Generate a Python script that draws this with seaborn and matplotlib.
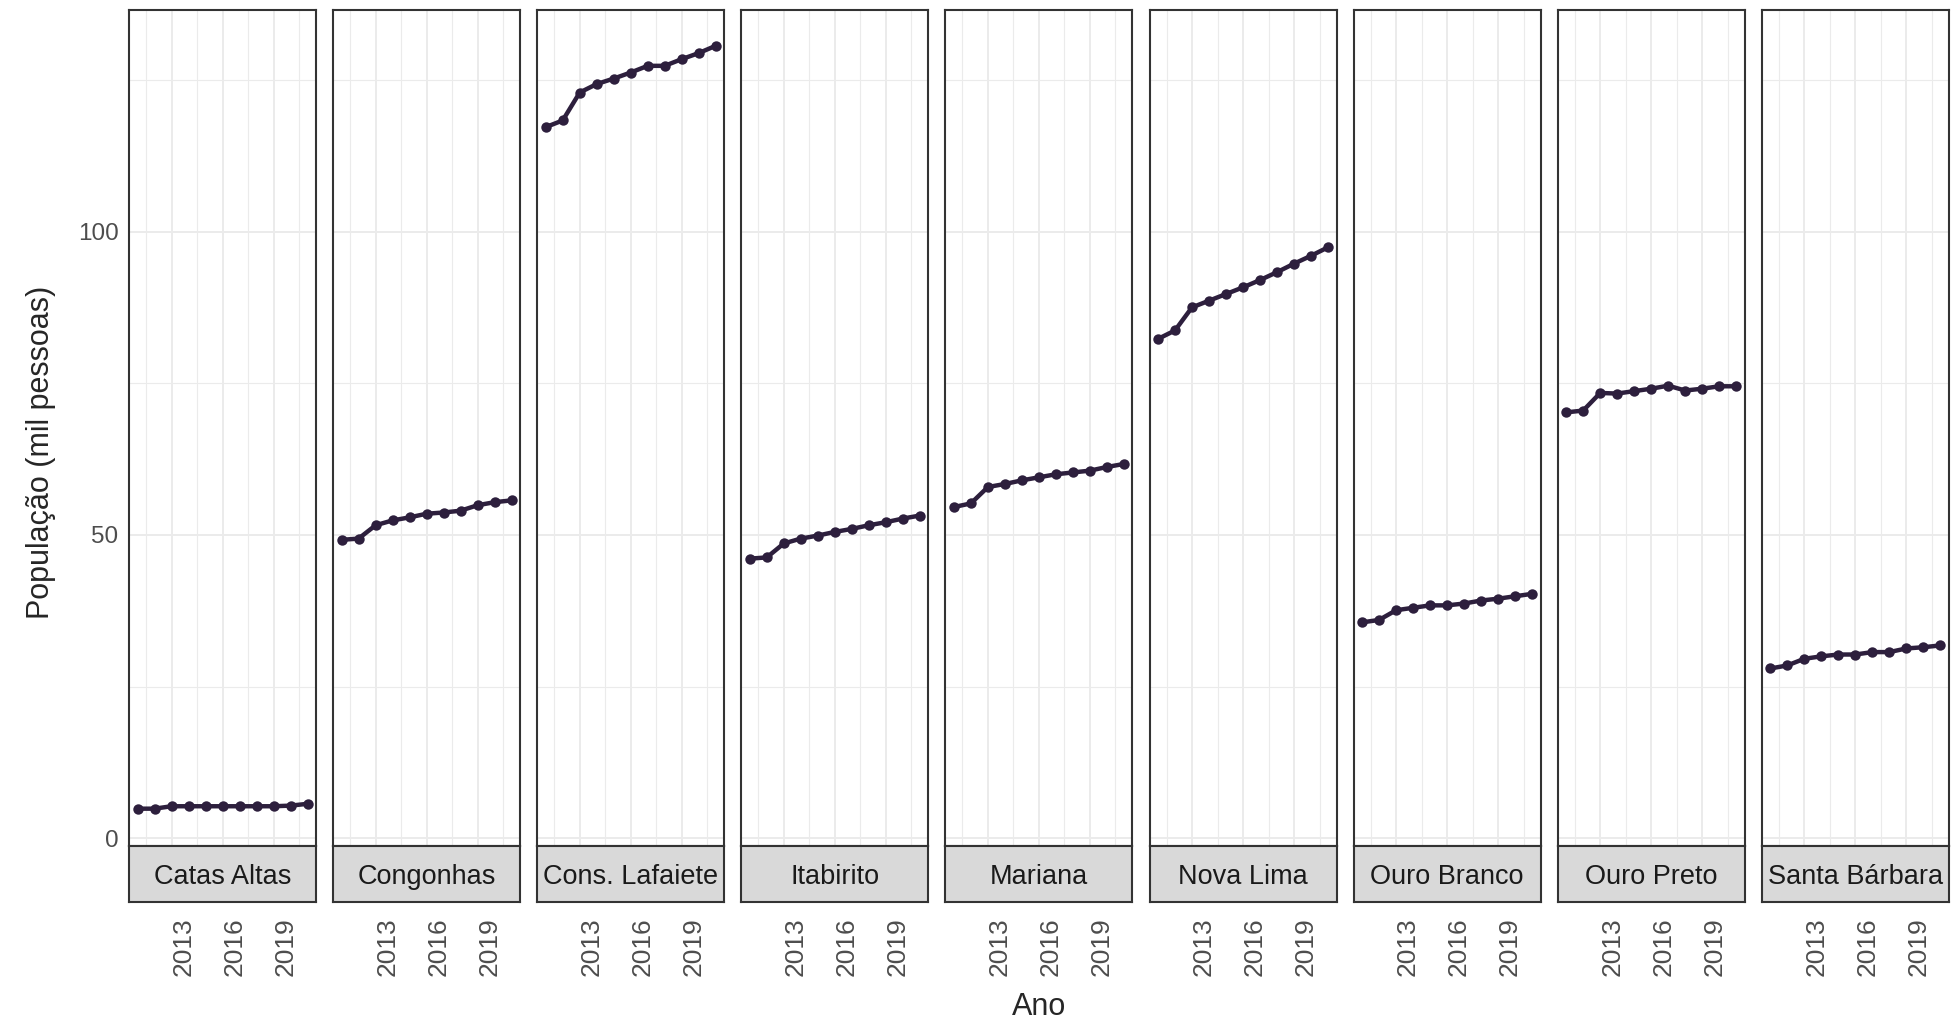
import pandas as pd
import matplotlib
matplotlib.use('Agg')
import matplotlib.pyplot as plt
import seaborn as sns

# dados (mil pessoas)
anos = [2011, 2012, 2013, 2014, 2015, 2016, 2017, 2018, 2019, 2020, 2021]
municipios = ['Catas Altas', 'Congonhas', 'Cons. Lafaiete', 'Itabirito', 'Mariana',
              'Nova Lima', 'Ouro Branco', 'Ouro Preto', 'Santa Bárbara']

catas_altas = [4.9, 4.9, 5.3, 5.3, 5.3, 5.3, 5.3, 5.3, 5.3, 5.4, 5.7]
congonhas = [49.2, 49.4, 51.6, 52.4, 52.9, 53.5, 53.7, 54.0, 54.9, 55.4, 55.7]
cons_lafaiete = [117.2, 118.3, 122.9, 124.3, 125.2, 126.2, 127.3, 127.3, 128.4, 129.4, 130.6]
itabirito = [46.1, 46.3, 48.6, 49.4, 49.9, 50.5, 51.0, 51.6, 52.1, 52.7, 53.2]
mariana = [54.6, 55.2, 57.9, 58.4, 59.0, 59.5, 60.0, 60.3, 60.6, 61.2, 61.7]
nova_lima = [82.3, 83.7, 87.5, 88.6, 89.7, 90.8, 92.0, 93.3, 94.7, 96.0, 97.4]
ouro_branco = [35.6, 36.0, 37.6, 38.0, 38.4, 38.4, 38.7, 39.2, 39.5, 39.9, 40.3]
ouro_preto = [70.2, 70.5, 73.4, 73.3, 73.7, 74.1, 74.6, 73.8, 74.1, 74.5, 74.5]
santa_barbara = [28.0, 28.5, 29.6, 30.0, 30.3, 30.3, 30.7, 30.7, 31.3, 31.5, 31.8]

series = [catas_altas, congonhas, cons_lafaiete, itabirito, mariana,
          nova_lima, ouro_branco, ouro_preto, santa_barbara]

df = pd.concat([pd.DataFrame({'Município': m, 'Ano': anos, 'População': v})
                for m, v in zip(municipios, series)], ignore_index=True)

sns.set_style('white')
plt.rcParams['font.family'] = ['Liberation Sans', 'DejaVu Sans']

W, H = 1954, 1027
fig = plt.figure(figsize=(W / 100, H / 100), dpi=100)

cor = '#2D1F3D'
borda = '#333333'
grade = '#EBEBEB'

esq, passo, larg = 129, 204.1, 187
topo, base_painel, base_faixa = 10, 846, 902

for i, mun in enumerate(municipios):
    x0 = esq + i * passo
    ax = fig.add_axes([x0 / W, 1 - base_painel / H, larg / W, (base_painel - topo) / H])
    sax = fig.add_axes([x0 / W, 1 - base_faixa / H, larg / W, (base_faixa - base_painel) / H], sharex=ax)

    sub = df[df['Município'] == mun]
    sns.lineplot(data=sub, x='Ano', y='População', ax=ax, color=cor, linewidth=3.2,
                 marker='o', markersize=7.5, markeredgewidth=0, markeredgecolor=cor)

    ax.set_xlim(2010.5, 2021.5)
    ax.set_ylim(-1.25, 136.5)
    ax.set_xticks([2013, 2016, 2019])
    ax.set_xticks([2011.5, 2014.5, 2017.5, 2020.5], minor=True)
    ax.set_yticks([0, 50, 100])
    ax.set_yticks([25, 75, 125], minor=True)
    ax.grid(True, which='major', color=grade, linewidth=1.4)
    ax.grid(True, which='minor', color=grade, linewidth=0.8)
    ax.set_axisbelow(True)
    ax.set_xlabel('')
    ax.set_ylabel('')
    ax.tick_params(axis='x', which='both', length=0, labelbottom=False)
    ax.tick_params(axis='y', which='minor', length=0)
    if i == 0:
        ax.tick_params(axis='y', which='major', length=4.5, width=1.2, color=borda,
                       labelsize=17.5, labelcolor='#4D4D4D', pad=3)
    else:
        ax.tick_params(axis='y', which='both', length=0, labelleft=False)
    for s in ax.spines.values():
        s.set_color(borda)
        s.set_linewidth(1.5)

    # faixa com o nome do município embaixo do painel
    sax.set_facecolor('#D9D9D9')
    sax.set_yticks([])
    sax.tick_params(axis='x', which='major', length=5, width=1.2, color=borda,
                    labelsize=19, labelcolor='#4D4D4D', pad=6)
    sax.tick_params(axis='x', which='minor', length=0)
    plt.setp(sax.get_xticklabels(), rotation=90, ha='left', va='top')
    for s in sax.spines.values():
        s.set_color(borda)
        s.set_linewidth(1.5)
    sax.text(0.5, 0.45, mun, transform=sax.transAxes, ha='center', va='center',
             fontsize=19.5, color='#1A1A1A')

fig.text(1039 / W, 1 - 1007 / H, 'Ano', ha='center', va='center', fontsize=22)
fig.text(41 / W, 1 - 452 / H, 'População (mil pessoas)', rotation=90,
         ha='center', va='center', fontsize=22)

plt.savefig('out.png', dpi=100)
